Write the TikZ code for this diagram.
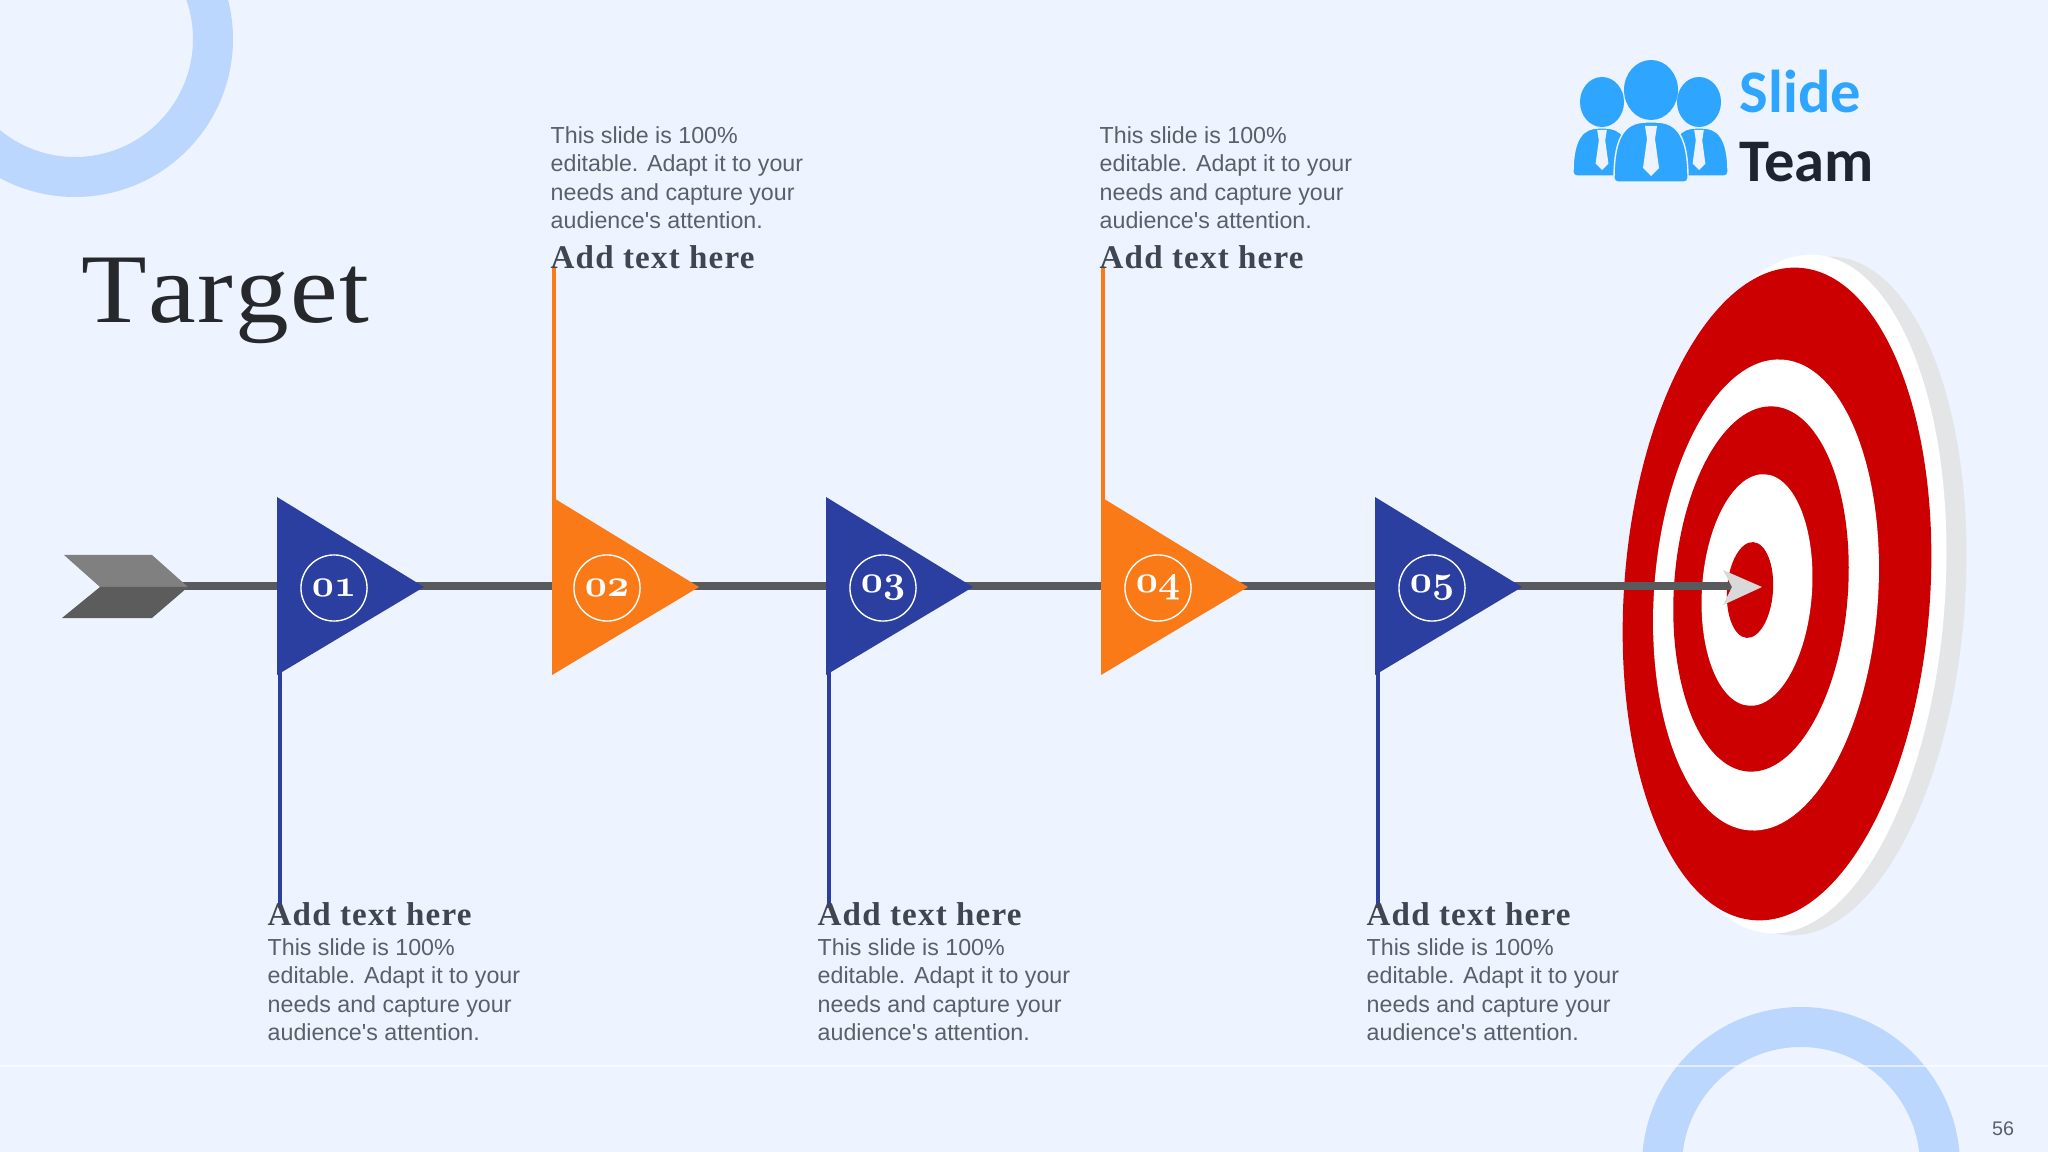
\documentclass[tikz,border=0pt]{standalone}
\usepackage{fontspec}
\setmainfont{Liberation Serif}
\newfontfamily\bodyfont{Liberation Sans}
\newfontfamily\logofont{Carlito}
\newfontfamily\titlefont[FakeStretch=1.09,LetterSpace=1.5,Kerning=Off]{Liberation Serif}
\newfontfamily\headfont[LetterSpace=3.5]{Liberation Serif}
\usetikzlibrary{calc}
\definecolor{pagebg}{HTML}{EDF3FF}
\definecolor{ringblue}{HTML}{BBD7FE}
\definecolor{flagblue}{HTML}{2B3FA0}
\definecolor{flagorange}{HTML}{F97A17}
\definecolor{shaftgray}{HTML}{595A5E}
\definecolor{targetred}{HTML}{CC0000}
\definecolor{targetshade}{HTML}{E4E5E7}
\definecolor{logoblue}{HTML}{2EA6FF}
\definecolor{logodark}{HTML}{1F2530}
\definecolor{titletext}{HTML}{26282C}
\definecolor{headtext}{HTML}{404650}
\definecolor{bodytext}{HTML}{5B6068}
\tikzstyle{numring}=[circle,draw=white,thin,minimum size=18.8pt,inner sep=0pt,text=white,font=\fontsize{10.5}{11}\usefont{OML}{cmm}{b}{it}]
\tikzstyle{heading}=[anchor=base west,inner sep=0pt,text=headtext,font=\fontsize{9.4}{11}\headfont\bfseries]
\tikzstyle{blurb}=[anchor=north west,inner sep=0pt,align=left,text=bodytext,font=\fontsize{6.6}{8.08}\selectfont\bodyfont]
\tikzstyle{stem}=[draw,line width=1.3pt]
\newcommand{\blurbtext}{This slide is 100\%\\editable. Adapt it to your\\needs and capture your\\audience\textquotesingle s attention.}
\begin{document}
\begin{tikzpicture}[x=0.01cm,y=-0.01cm]
    % Page and the two rings
    \fill[pagebg] (0,0) rectangle (2048,1152);
    \clip (0,0) rectangle (2048,1152);
    \fill[ringblue,even odd rule] (75,39) circle (158) (75,39) circle (118);
    \fill[ringblue,even odd rule] (1801,1166) circle (159) (1801,1166) circle (119);
    \draw[white,opacity=0.6,line width=0.5pt] (0,1066) -- (2048,1066);
    \node[anchor=base west,inner sep=0pt,text=titletext,font=\fontsize{28}{34}\titlefont] (title) at (81,323) {Target};
    \node[anchor=base,inner sep=0pt,text=bodytext,font=\fontsize{5.6}{7}\selectfont\bodyfont] (pagenum) at (2003,1135) {56};

    % Logo
    \foreach \cx/\cy/\rx/\ry in {1602/102/22/25, 1699/102/22/25, 1651/90/27/30}
        \fill[logoblue] (\cx,\cy) ellipse [x radius=\rx, y radius=\ry];
    \foreach \cx/\w/\top/\bot in {1602/29/128/176, 1699/29/128/176, 1651/37/122/182}
    {
        \fill[logoblue,draw=pagebg,line width=0.4pt,rounded corners=1pt] (\cx-\w,\bot) .. controls (\cx-\w,\top+8) and (\cx-\w*0.6,\top) .. (\cx,\top)
            .. controls (\cx+\w*0.6,\top) and (\cx+\w,\top+8) .. (\cx+\w,\bot) -- cycle;
    }
    \foreach \cx/\top/\s in {1602/130/0.8, 1699/130/0.8, 1651/126/1}
        \fill[pagebg] (\cx-6*\s,\top) -- (\cx+6*\s,\top) -- (\cx+4*\s,\top+13*\s) -- (\cx+8*\s,\top+42*\s) -- (\cx,\top+50*\s) -- (\cx-8*\s,\top+42*\s) -- (\cx-4*\s,\top+13*\s) -- cycle;
    \node[anchor=base west,inner sep=0pt,text=logoblue,font=\fontsize{17.2}{20}\selectfont\logofont\bfseries] (slide) at (1739,113) {Slide};
    \node[anchor=base west,inner sep=0pt,text=logodark,font=\fontsize{17.2}{20}\selectfont\logofont\bfseries] (team) at (1739,182) {Team};

    % Target, back to front
    \foreach \cx/\cy/\rx/\ry/\col in {1811/596/154/340/targetshade, 1792/594/153/340/white, 1777/594/153/327/targetred,
                                      1766/595/112/236/white, 1761/589/87/183/targetred, 1757/590/55/116/white, 1750/590/23/48/targetred}
        \fill[\col,shift={(\cx,\cy)},rotate=-4] (0,0) ellipse [x radius=\rx, y radius=\ry];

    % Shaft with its fletching and head
    \coordinate (tail) at (150,586);
    \coordinate (head) at (1732,586);
    \draw[shaftgray,line width=2pt] (tail) -- (head);
    \fill[black!50] (64,555) -- (152,555) -- (188,587) -- (100,587) -- cycle;
    \fill[black!64] (100,587) -- (188,587) -- (152,618) -- (62,618) -- cycle;
    \fill[black!15] (1723,570) -- (1762,587) -- (1723,605) -- (1732,587) -- cycle;

    % Flags
    \foreach \x/\cx/\num/\col in {277/334/01/flagblue, 552/607/02/flagorange, 826/883/03/flagblue, 1101/1158/04/flagorange, 1375/1432/05/flagblue}
    {
        \fill[\col] (\x,497) -- (\x+147,587) -- (\x,675) -- cycle;
        \node[numring] (flag\num) at (\cx,588) {\num};
    }
    % Stems and texts below
    \foreach \x/\tx/\name in {277/267/a, 826/817/c, 1375/1366/e}
    {
        \coordinate (foot\name) at (\x+3,660);
        \coordinate (end\name) at (\x+3,908);
        \path[stem,flagblue] (foot\name) -- (end\name);
        \node[heading] (head\name) at (\tx,925) {Add text here};
        \node[blurb] (text\name) at (\tx,938) {\blurbtext};
    }
    % Stems and texts above
    \foreach \x/\tx/\name in {552/550/b, 1101/1099/d}
    {
        \coordinate (foot\name) at (\x+2,510);
        \coordinate (end\name) at (\x+2,268);
        \path[stem,flagorange] (foot\name) -- (end\name);
        \node[heading] (head\name) at (\tx,269) {Add text here};
        \node[blurb] (text\name) at (\tx,126) {\blurbtext};
    }
\end{tikzpicture}
\end{document}
